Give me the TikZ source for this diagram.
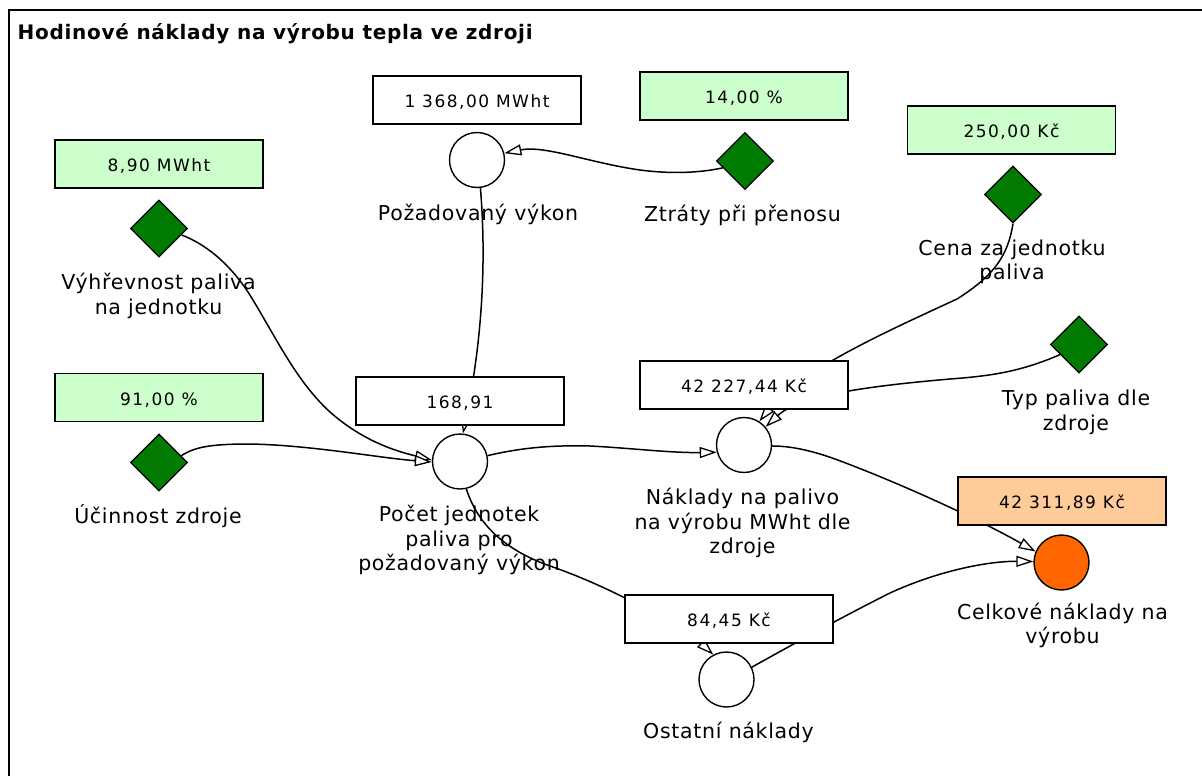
\documentclass[tikz,border=0pt]{standalone}
\usepackage{fontspec}
\setmainfont{DejaVu Sans}
\newfontfamily\titlefont[LetterSpace=3.5]{DejaVu Sans Bold}
\newfontfamily\labelfont[LetterSpace=3.4]{DejaVu Sans}
\newfontfamily\valuefont[LetterSpace=8.8]{DejaVu Sans}
\usetikzlibrary{shapes.geometric,arrows.meta}
\definecolor{inputgreen}{HTML}{CCFFCC}
\definecolor{diagreen}{RGB}{0,122,0}
\definecolor{resultfill}{HTML}{FFCC99}
\definecolor{resultdot}{HTML}{FF6600}
\pgfdeclarelayer{paper}
\pgfdeclarelayer{links}
\pgfsetlayers{paper,links,main}
\begin{document}
\begin{tikzpicture}[x=1pt,y=-1pt,
  valbox/.style={draw, line width=1.8pt, fill=white, minimum width=208pt, minimum height=48pt,
    inner sep=0pt, text height=15.4pt, text depth=0pt,
    font=\valuefont\fontsize{17}{20}\selectfont},
  inbox/.style={valbox, fill=inputgreen},
  outbox/.style={valbox, fill=resultfill},
  var/.style={circle, draw, line width=1.4pt, fill=white, minimum size=55pt, inner sep=0pt},
  result/.style={var, fill=resultdot},
  param/.style={diamond, draw, line width=1.3pt, fill=diagreen, minimum width=57pt,
    minimum height=57pt, inner sep=0pt, shape aspect=1},
  lbl/.style={align=center, inner sep=0pt, font=\labelfont\fontsize{20.5}{24.5}\selectfont},
  link/.style={line width=1.5pt, -{Triangle[length=17pt, width=11pt, fill=white, line width=1.3pt]}},
  frame/.style={line width=1.5pt}]
\useasboundingbox (0,0) rectangle (1202,776);
\begin{pgfonlayer}{paper}
  \fill[white] (0,0) rectangle (1202,776);
  \draw[frame] (9,776) -- (9,10) -- (1202,10);
\end{pgfonlayer}

\node[anchor=base west, inner sep=0pt, font=\titlefont\fontsize{20}{24}\selectfont] (title) at (17.5,39.3)
  {Hodinové náklady na výrobu tepla ve zdroji};

% parameters (diamonds) with their values
\node[param] (vh) at (159,228.5) {};
\node[inbox] (vhv) at (159,164) {8,90 MWht};
\node[lbl] (vhl) at (158.5,295.7) {Výhřevnost paliva\\na jednotku};

\node[param] (uc) at (159,462.5) {};
\node[inbox] (ucv) at (159,397.5) {91,00 \%};
\node[lbl, anchor=base] (ucl) at (158,523.3) {Účinnost zdroje};

\node[param] (zt) at (745,161) {};
\node[inbox] (ztv) at (744,96) {14,00 \%};
\node[lbl, anchor=base] (ztl) at (742.5,221.7) {Ztráty při přenosu};

\node[param] (cz) at (1013,194.5) {};
\node[inbox] (czv) at (1011.5,130) {250,00 Kč};
\node[lbl] (czl) at (1012,261.7) {Cena za jednotku\\paliva};

\node[param] (tp) at (1079,344.5) {};
\node[lbl] (tpl) at (1076,412.3) {Typ paliva dle\\zdroje};

% computed variables (circles) with their values
\node[var] (pz) at (477,160) {};
\node[valbox] (pzv) at (477,100) {1 368,00 MWht};
\node[lbl, anchor=base] (pzl) at (478,220) {Požadovaný výkon};

\node[var] (pc) at (460,461.5) {};
\node[valbox] (pcv) at (460,401) {168,91};
\node[lbl] (pcl) at (459,540.3) {Počet jednotek\\paliva pro\\požadovaný výkon};

\node[var] (nk) at (744,445) {};
\node[valbox] (nkv) at (744,385) {42 227,44 Kč};
\node[lbl] (nkl) at (742.5,523) {Náklady na palivo\\na výrobu MWht dle\\zdroje};

\node[var] (os) at (726.5,679.5) {};
\node[valbox] (osv) at (729,619) {84,45 Kč};
\node[lbl, anchor=base] (osl) at (728.5,738.3) {Ostatní náklady};

\node[result] (ce) at (1061.5,562.5) {};
\node[outbox] (cev) at (1062,501) {42 311,89 Kč};
\node[lbl] (cel) at (1062.5,625.6) {Celkové náklady na\\výrobu};

% influence links, kept beneath the nodes
\begin{pgfonlayer}{links}
  \draw[link] (zt.197) .. controls (700,173) and (670,174) .. (640,170)
                       .. controls (590,163) and (545,145) .. (pz.14);
  \draw[link] (pz.-83) .. controls (488,280) and (478,360) .. (pc.84);
  \draw[link] (vh.-16) .. controls (205,244) and (228,262) .. (248,292)
                       .. controls (275,335) and (295,380) .. (330,412)
                       .. controls (365,443) and (400,452) .. (pc.177);
  \draw[link] (uc.17) .. controls (195,447) and (210,444) .. (250,444)
                      .. controls (310,445) and (380,458) .. (pc.181);
  \draw[link] (pc.12) .. controls (520,448) and (550,445) .. (590,446)
                      .. controls (630,448) and (670,453) .. (nk.195);
  \draw[link] (cz.south) .. controls (1008,255) and (995,275) .. (957,299)
                         .. controls (890,330) and (800,370) .. (nk.57);
  \draw[link] (tp.208) .. controls (1020,372) and (990,376) .. (950,379)
                       .. controls (870,386) and (800,395) .. (nk.40);
  \draw[link] (pc.-77) .. controls (478,525) and (505,550) .. (550,566)
                       .. controls (620,590) and (690,633) .. (os.118);
  \draw[link] (nk.-2) .. controls (790,446) and (810,450) .. (835,459)
                      .. controls (900,483) and (980,520) .. (ce.157);
  \draw[link] (os.26) .. controls (790,646) and (840,618) .. (890,593)
                      .. controls (940,570) and (990,561) .. (ce.178);
\end{pgfonlayer}
\end{tikzpicture}
\end{document}
